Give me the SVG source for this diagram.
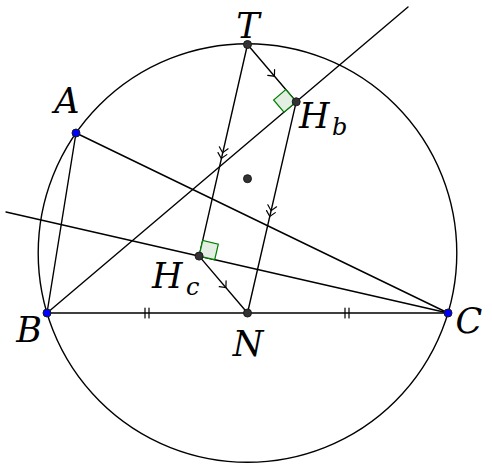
<svg xmlns="http://www.w3.org/2000/svg" width="492" height="470" viewBox="0 0 492 470">
<style>
.ln{stroke:#000;stroke-width:1.4;fill:none;stroke-linecap:round}
.tk{stroke:#000;stroke-width:1.2;fill:none;stroke-linecap:round;stroke-linejoin:miter}
.ra{fill:#e4efe4;stroke:#007f00;stroke-width:1.2}
.pb{fill:#0000ff;stroke:#1a1a1a;stroke-width:1}
.pg{fill:#333;stroke:#1a1a1a;stroke-width:1}
.lb{font-family:'DejaVu Serif','Liberation Serif',serif;font-style:italic;font-size:35px;fill:#000}
.sb{font-family:'DejaVu Serif','Liberation Serif',serif;font-style:italic;font-size:24px;fill:#000}
</style>
<defs>
<path id="chev" d="M-5,-4.5 L0,0 L-5,4.5"/>
</defs>
<g id="connectors">
<circle class="ln" cx="247.5" cy="253" r="209.3"/>
<line class="ln" x1="47" y1="313" x2="448" y2="313"/>
<line class="ln" x1="76" y1="133" x2="47" y2="313"/>
<line class="ln" x1="76" y1="133" x2="448" y2="313"/>
<line class="ln" x1="47" y1="313" x2="408" y2="7"/>
<line class="ln" x1="6" y1="212" x2="448" y2="313"/>
<line class="ln" x1="247.5" y1="44.5" x2="296.2" y2="101.8"/>
<line class="ln" x1="296.2" y1="101.8" x2="247.5" y2="313"/>
<line class="ln" x1="247.5" y1="313" x2="199.1" y2="256.1"/>
<line class="ln" x1="199.1" y1="256.1" x2="247.5" y2="44.5"/>
<g class="tk">
<use href="#chev" transform="translate(274.4,76.2) rotate(49.6)"/>
<use href="#chev" transform="translate(225.9,287.6) rotate(49.6)"/>
<use href="#chev" transform="translate(222.6,152.7) rotate(102.9)"/>
<use href="#chev" transform="translate(221.3,158.5) rotate(102.9)"/>
<use href="#chev" transform="translate(271.1,210.7) rotate(102.9)"/>
<use href="#chev" transform="translate(269.8,216.5) rotate(102.9)"/>
<path d="M145,308V318M149,308V318M345,308V318M349,308V318"/>
</g>
</g>
<g id="rightangle-Hb"><polygon class="ra" points="296.2,101.8 285.8,89.6 273.6,100 284,112.2"/></g>
<g id="rightangle-Hc"><polygon class="ra" points="199.1,256.1 202.7,240.5 218.3,244.1 214.7,259.7"/></g>
<g id="node-A"><circle class="pb" cx="76" cy="133" r="4"/><text class="lb" x="67" y="113" text-anchor="middle">A</text></g>
<g id="node-B"><circle class="pb" cx="47" cy="313" r="4"/><text class="lb" x="29" y="342" text-anchor="middle">B</text></g>
<g id="node-C"><circle class="pb" cx="448" cy="313" r="4"/><text class="lb" x="469" y="333" text-anchor="middle">C</text></g>
<g id="node-T"><circle class="pg" cx="247.5" cy="44.5" r="4"/><text class="lb" x="248" y="38" text-anchor="middle">T</text></g>
<g id="node-N"><circle class="pg" cx="247.5" cy="313" r="4"/><text class="lb" x="248" y="356" text-anchor="middle">N</text></g>
<g id="node-Hb"><circle class="pg" cx="296.2" cy="101.8" r="4"/><text class="lb" x="299" y="128">H</text><text class="sb" x="332" y="135">b</text></g>
<g id="node-Hc"><circle class="pg" cx="199.1" cy="256.1" r="4"/><text class="lb" x="152" y="288">H</text><text class="sb" x="186" y="295">c</text></g>
<g id="node-center"><circle class="pg" cx="247.5" cy="178.7" r="4"/></g>
</svg>
